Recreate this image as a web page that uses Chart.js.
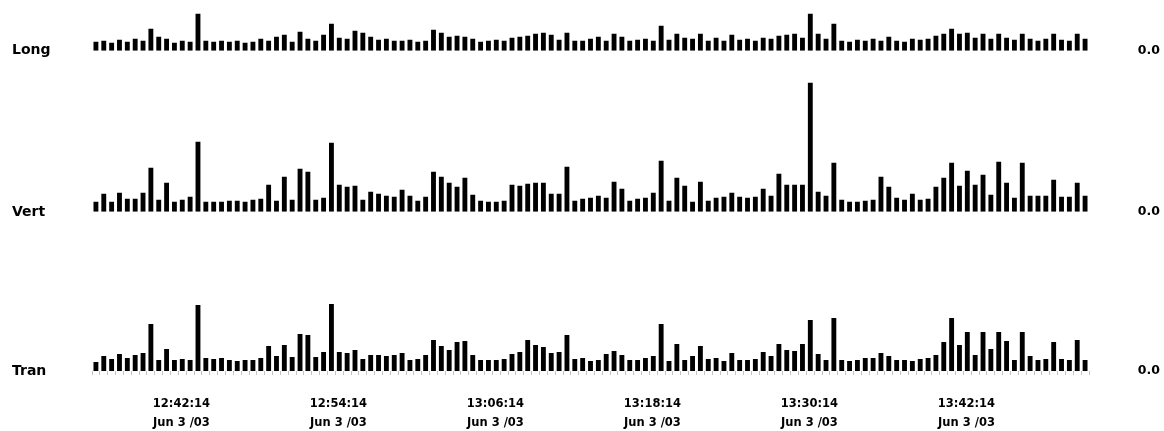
<!DOCTYPE html>
<html>
<head>
<meta charset="utf-8">
<title>Long / Vert / Tran</title>
<script src="https://cdn.jsdelivr.net/npm/chart.js"></script>
<style>
  html, body { margin: 0; padding: 0; background: #fff; }
</style>
</head>
<body>
<canvas id="myChart" width="1164" height="431"></canvas>
<script>
let rowNames = ['Long', 'Vert', 'Tran'];
let firstSample = '12:42:00';
let sampleStep = 30; // seconds between readings
let tickTimes = ['12:42:14', '12:54:14', '13:06:14', '13:18:14', '13:30:14', '13:42:14'];
let tickDate = 'Jun 3 /03';

let longData = [9, 10, 8, 11, 9, 12, 10, 22, 14, 12, 8, 10, 9, 37, 10, 9, 10, 9, 10, 8,
  9, 12, 10, 14, 16, 9, 19, 12, 10, 16, 27, 13, 12, 20, 18, 14, 11, 12, 10, 10,
  11, 9, 10, 21, 18, 14, 15, 14, 12, 9, 10, 11, 10, 13, 14, 15, 17, 18, 16, 11,
  18, 10, 10, 12, 14, 10, 17, 14, 10, 11, 12, 10, 25, 11, 17, 13, 12, 17, 10, 13,
  10, 16, 11, 12, 10, 13, 12, 15, 16, 17, 13, 37, 17, 12, 27, 10, 9, 11, 10, 12,
  10, 14, 10, 9, 12, 11, 12, 15, 17, 22, 17, 18, 13, 17, 12, 17, 13, 11, 17, 12,
  10, 12, 17, 11, 10, 17, 12];

let vertData = [10, 18, 10, 19, 13, 13, 19, 44, 12, 29, 10, 12, 15, 70, 10, 10, 10, 11, 11, 10,
  12, 13, 27, 11, 35, 12, 43, 40, 12, 14, 69, 27, 25, 26, 12, 20, 18, 16, 15, 22,
  16, 11, 15, 40, 35, 29, 25, 34, 17, 11, 10, 10, 11, 27, 26, 28, 29, 29, 18, 18,
  45, 11, 13, 14, 16, 14, 30, 23, 11, 13, 14, 19, 51, 11, 34, 26, 10, 30, 11, 14,
  15, 19, 15, 14, 15, 23, 16, 38, 27, 27, 27, 129, 20, 16, 49, 12, 10, 10, 11, 12,
  35, 25, 14, 12, 18, 12, 13, 25, 34, 49, 26, 41, 27, 37, 17, 50, 29, 14, 49, 16,
  16, 16, 32, 15, 15, 29, 16];

let tranData = [9, 15, 12, 17, 13, 16, 18, 47, 11, 22, 11, 12, 11, 66, 13, 12, 13, 11, 10, 11,
  11, 13, 25, 15, 26, 14, 37, 36, 14, 19, 67, 19, 18, 21, 12, 16, 16, 15, 16, 18,
  11, 12, 16, 31, 25, 21, 29, 30, 16, 11, 11, 11, 12, 17, 19, 31, 26, 24, 18, 19,
  36, 12, 13, 10, 11, 17, 20, 16, 11, 11, 13, 15, 47, 10, 27, 11, 15, 25, 12, 13,
  10, 18, 11, 11, 12, 19, 15, 27, 21, 20, 27, 51, 17, 11, 53, 11, 10, 11, 13, 13,
  18, 15, 11, 11, 10, 12, 13, 16, 29, 53, 26, 39, 16, 39, 22, 39, 30, 11, 39, 15,
  11, 12, 29, 12, 11, 31, 11];

// each strip gets its own range, the strips are stacked top to bottom
let rowMax = [40.7, 161, 159];

function toSec(t) {
  let p = t.split(':').map(Number);
  return p[0] * 3600 + p[1] * 60 + p[2];
}
function fmt(sec) {
  let h = Math.floor(sec / 3600), m = Math.floor(sec % 3600 / 60), s = sec % 60;
  return [h, m, s].map(n => String(n).padStart(2, '0')).join(':');
}

let start = toSec(firstSample);
let sampleTimes = longData.map((v, i) => fmt(start + i * sampleStep));

Chart.defaults.font.family = "'DejaVu Sans', Verdana, sans-serif";
Chart.defaults.color = '#000';

let rowFont = {family: "'DejaVu Sans'", size: 14, weight: 'bold'};

function leftAxis(i) {
  return {
    type: 'linear', position: 'left', stack: 'rows', stackWeight: rowMax[i], weight: 3 - i,
    min: 0, max: rowMax[i],
    grid: {display: false}, border: {display: false},
    afterBuildTicks: axis => { axis.ticks = [{value: 0}]; },
    afterFit: axis => { axis.width = 80; },
    ticks: {callback: () => rowNames[i], crossAlign: 'far', padding: 0, font: rowFont}
  };
}
function rightAxis(i) {
  return {
    type: 'linear', position: 'right', stack: 'zeros', stackWeight: rowMax[i], weight: i + 1,
    min: 0, max: rowMax[i],
    grid: {display: false}, border: {display: false},
    afterBuildTicks: axis => { axis.ticks = [{value: 0}]; },
    afterFit: axis => { axis.width = 71; },
    ticks: {callback: () => '0.0', crossAlign: 'far', padding: 0,
      font: {family: "'DejaVu Sans'", size: 12.5, weight: 'bold'}}
  };
}

let rows = [longData, vertData, tranData];
let ids = ['yLong', 'yVert', 'yTran'];

let scales = {
  x: {
    type: 'category', position: 'bottom', offset: true,
    grid: {drawOnChartArea: false, tickLength: 4, color: '#c4c4c4'},
    border: {display: false},
    ticks: {display: false},
    afterFit: axis => { axis.height = 5; }
  },
  xTime: {
    type: 'linear', position: 'bottom',
    min: start - sampleStep / 2,
    max: start + (sampleTimes.length - 0.5) * sampleStep,
    grid: {display: false}, border: {display: false},
    afterBuildTicks: axis => { axis.ticks = tickTimes.map(t => ({value: toSec(t)})); },
    afterFit: axis => { axis.height = 55; },
    ticks: {
      callback: value => [fmt(value), tickDate],
      padding: 10.5, maxRotation: 0, autoSkip: false,
      font: {family: "'DejaVu Sans'", size: 11.5, weight: 'bold', lineHeight: 1.65}
    }
  }
};
ids.forEach((id, i) => {
  scales[id] = leftAxis(i);
  scales['r' + id] = rightAxis(i);
});

let myChart = new Chart(document.getElementById('myChart').getContext('2d'), {
  type: 'bar',
  data: {
    labels: sampleTimes,
    datasets: rows.map((d, i) => ({
      label: rowNames[i],
      data: d,
      xAxisID: 'x',
      yAxisID: ids[i],
      backgroundColor: '#000',
      barPercentage: 0.62,
      categoryPercentage: 1,
      grouped: false
    }))
  },
  options: {
    responsive: false,
    animation: false,
    layout: {padding: {top: 10, left: 12, right: 4, bottom: 0}},
    plugins: {legend: {display: false}, tooltip: {enabled: false}},
    scales: scales
  }
});
</script>
</body>
</html>
